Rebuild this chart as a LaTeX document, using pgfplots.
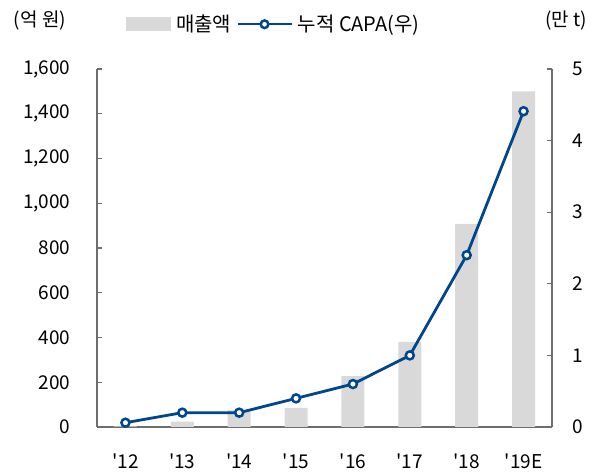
\documentclass[border=0pt]{standalone}
\usepackage{pgfplots}
\pgfplotsset{compat=1.18}
\usepackage{fontspec}
\setmainfont{Noto Sans CJK KR}
\definecolor{barg}{RGB}{217,217,217}
\definecolor{navy}{RGB}{0,70,140}
\definecolor{axg}{RGB}{110,110,110}
\begin{document}
\fontsize{19}{22}\selectfont
\begin{tikzpicture}[x=1pt,y=1pt]
\useasboundingbox (0,0) rectangle (595,473);
\pgfplotsset{
  base/.style={
    scale only axis, width=455pt, height=358pt,
    at={(97pt,46pt)}, anchor=south west,
    xmin=-0.5, xmax=7.5,
    tick align=inside, major tick length=5pt,
    tick label style={font=\fontsize{19}{22}\selectfont},
    /pgf/number format/assume math mode=true,
    axis line style={draw=axg, line width=1.2pt},
    every tick/.style={draw=axg, line width=1.2pt},
  }
}
\begin{axis}[base,
  ybar, bar width=23pt,
  ymin=0, ymax=1600, ytick={0,200,...,1600},
  /pgf/number format/1000 sep={,},
  axis y line*=left, axis x line*=bottom,
  xtick={0,...,7},
  xticklabels={\textquotesingle12,\textquotesingle13,\textquotesingle14,\textquotesingle15,\textquotesingle16,\textquotesingle17,\textquotesingle18,\textquotesingle19E},
  x tick style={draw=none},
  extra x ticks={0.5,1.5,...,6.5},
  extra x tick labels={},
  extra x tick style={tick style={draw=axg, line width=1.2pt}, major tick length=6pt},
  yticklabel style={xshift=-20pt},
  xticklabel style={yshift=-15pt},
  legend style={draw=none, fill=none, at={(0.392,1.125)}, anchor=center,
    legend columns=2, font=\fontsize{20}{22}\selectfont,
    nodes={inner xsep=5pt}},
  legend cell align=left,
]
\addplot[draw=none, fill=barg, area legend,
  legend image code/.code={\fill[barg] (0pt,-7pt) rectangle (45pt,7pt);}]
  coordinates {(0,3) (1,24) (2,77) (3,86) (4,227) (5,380) (6,908) (7,1500)};
\addlegendentry{매출액}
\addlegendimage{navy,
  legend image code/.code={\draw[navy, line width=2.5pt] (6pt,0pt) -- (60pt,0pt);
  \draw[navy, line width=2.5pt, fill=white] (33pt,0pt) circle (3.8pt);}}
\addlegendentry{누적 CAPA(우)}
\end{axis}
\begin{axis}[base,
  ymin=0, ymax=5, ytick={0,1,...,5},
  axis y line*=right, axis x line=none,
  yticklabel style={xshift=14pt},
]
\addplot[navy, line width=2.8pt, mark=*, mark size=4pt, mark options={fill=white, draw=navy, line width=2.5pt}]
  coordinates {(0,0.06) (1,0.2) (2,0.2) (3,0.4) (4,0.6) (5,1.0) (6,2.4) (7,4.41)};
\end{axis}
\node at (40,452) {(억 원)};
\node at (566,452) {(만 t)};
\end{tikzpicture}
\end{document}
